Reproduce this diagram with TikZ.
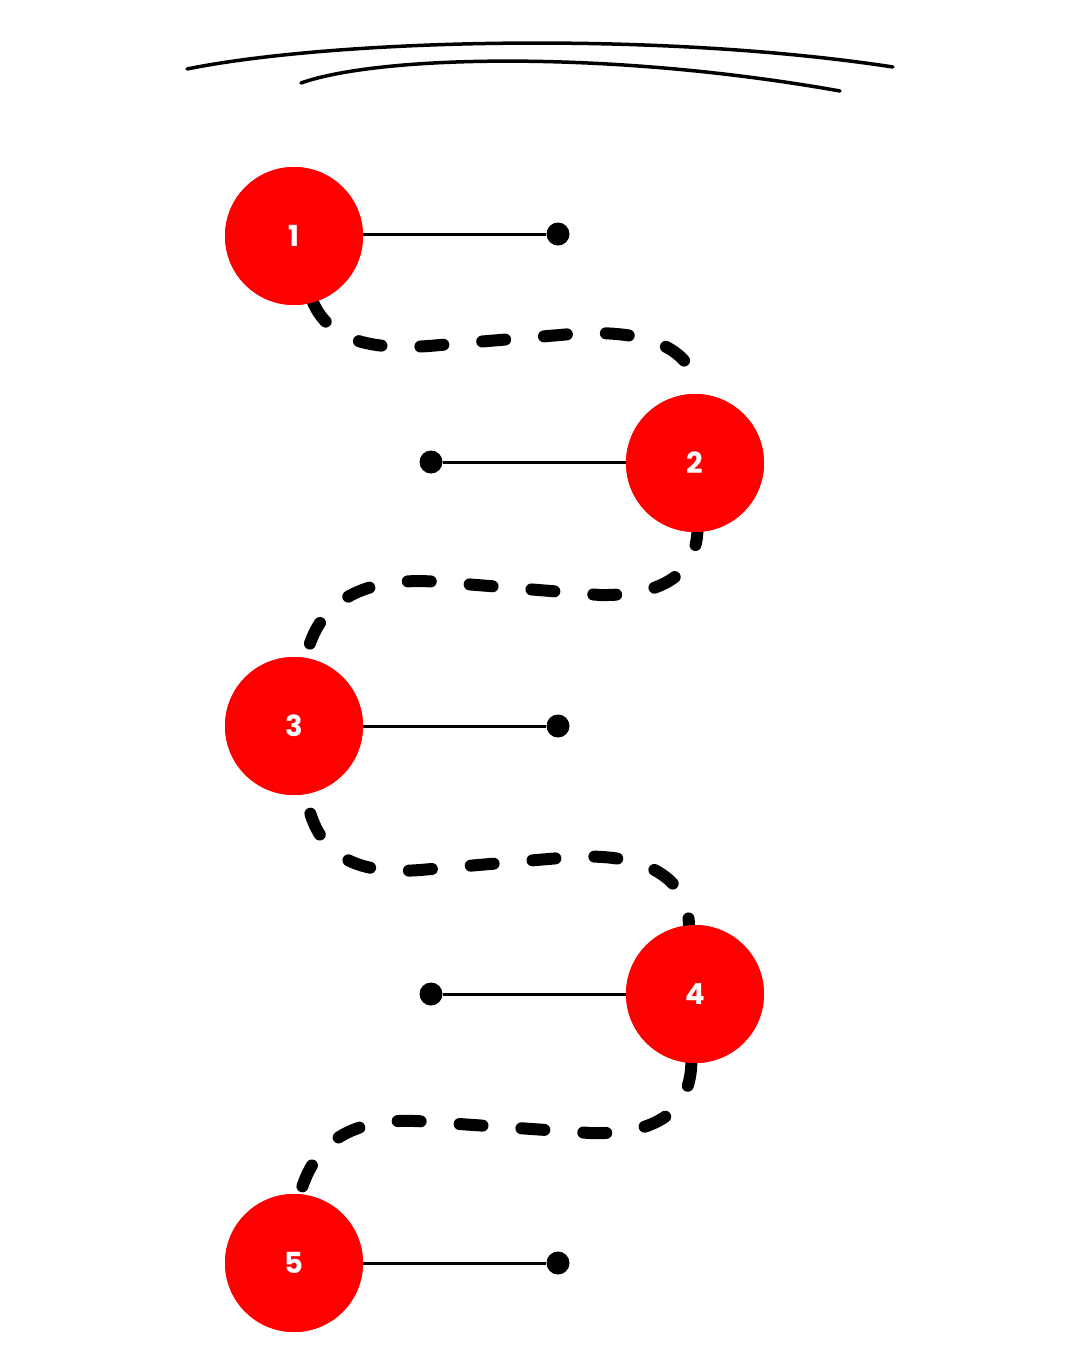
\documentclass[tikz,border=0pt]{standalone}
\usepackage{fontspec}
\newfontfamily\popfont{Poppins}
\begin{document}
\begin{tikzpicture}[x=1pt,y=-1pt,
  stepcircle/.style={circle,fill=red,draw=none,minimum size=138pt,inner sep=0pt,
    text=white,font=\popfont\fontsize{29}{29}\selectfont\bfseries},
  enddot/.style={circle,fill=black,minimum size=23pt,inner sep=0pt},
  link/.style={line width=3pt},
  dashcurve/.style={line width=12pt,line cap=round,dash pattern=on 23pt off 39pt},
  arcline/.style={line width=3.5pt,line cap=round}]
\useasboundingbox (0,0) rectangle (1080,1350);
\fill[white] (0,0) rectangle (1080,1350);
% top arcs
\draw[arcline] (187,69) .. controls (330,40) and (650,30) .. (893,67);
\draw[arcline] (301,83) .. controls (380,55) and (610,50) .. (840,91);
% nodes (placed first so curves can use their anchors)
\path (294,236) node[stepcircle] (c1) {}
      (695,463) node[stepcircle] (c2) {}
      (294,726) node[stepcircle] (c3) {}
      (695,994) node[stepcircle] (c4) {}
      (294,1263) node[stepcircle] (c5) {};
% dashed curves
\draw[dashcurve] (c1.-74) .. controls (330,340) and (370,352) .. (440,345) -- (560,335) .. controls (650,326) and (695,350) .. (c2.88);
\draw[dashcurve,dash phase=10pt] (c2.-88) .. controls (695,572) and (665,596) .. (600,595) -- (440,582) .. controls (365,576) and (318,600) .. (c3.80);
\draw[dashcurve,dash phase=-20pt] (c3.-80) .. controls (315,855) and (355,875) .. (420,870) -- (560,858) .. controls (640,850) and (688,875) .. (c4.95);
\draw[dashcurve] (c4.-93) .. controls (690,1112) and (655,1135) .. (590,1133) -- (430,1122) .. controls (355,1115) and (315,1140) .. (c5.85);
% circles on top
\node[stepcircle] at (c1) {1};
\node[stepcircle] at (c2) {2};
\node[stepcircle] at (c3) {3};
\node[stepcircle] at (c4) {4};
\node[stepcircle] at (c5) {5};
% dots
\node[enddot] (d1) at (558,234) {};
\node[enddot] (d2) at (431,462) {};
\node[enddot] (d3) at (558,726) {};
\node[enddot] (d4) at (431,994) {};
\node[enddot] (d5) at (558,1263) {};
\draw[link] (c1.east |- d1) -- (d1);
\draw[link] (c2.west |- d2) -- (d2);
\draw[link] (c3.east |- d3) -- (d3);
\draw[link] (c4.west |- d4) -- (d4);
\draw[link] (c5.east |- d5) -- (d5);
\end{tikzpicture}
\end{document}
